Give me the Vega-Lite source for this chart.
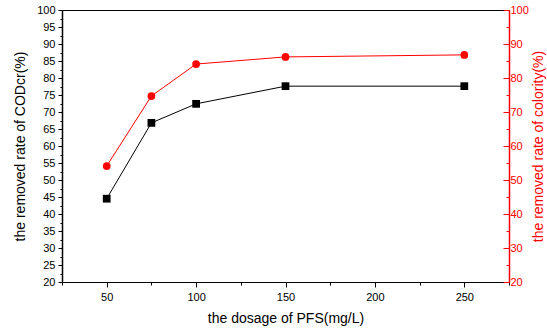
{
  "$schema": "https://vega.github.io/schema/vega-lite/v6.json",
  "width": 447,
  "height": 272,
  "autosize": "none",
  "padding": {"left": 62, "top": 10, "right": 38, "bottom": 52},
  "background": "white",
  "config": {
    "view": {"stroke": "black", "strokeWidth": 1},
    "font": "Liberation Sans",
    "axis": {"grid": false, "labelFont": "Liberation Sans", "titleFont": "Liberation Sans", "titleFontWeight": "normal", "labelFontSize": 11, "titleFontSize": 14}
  },
  "data": {
    "values": [
      {"dose": 50, "cod": 44.5, "color": 54.1},
      {"dose": 75, "cod": 66.8, "color": 74.7},
      {"dose": 100, "cod": 72.4, "color": 84.1},
      {"dose": 150, "cod": 77.6, "color": 86.2},
      {"dose": 250, "cod": 77.6, "color": 86.8}
    ]
  },
  "encoding": {
    "x": {
      "field": "dose", "type": "quantitative",
      "scale": {"domain": [25, 275], "nice": false, "zero": false},
      "axis": {
        "title": "the dosage of PFS(mg/L)",
        "values": [25, 50, 75, 100, 125, 150, 175, 200, 225, 250, 275],
        "labelExpr": "datum.value % 50 == 0 ? datum.label : ''",
        "tickSize": {"condition": {"test": "datum.value % 50 == 0", "value": 5}, "value": 3},
        "domainColor": "black", "tickColor": "black", "labelColor": "black", "titleColor": "black",
        "labelPadding": 4, "titlePadding": 9
      }
    }
  },
  "layer": [
    {
      "layer": [
        {"mark": {"type": "line", "color": "black", "strokeWidth": 1}},
        {"mark": {"type": "point", "shape": "square", "filled": true, "color": "black", "size": 60, "opacity": 1}}
      ],
      "encoding": {
        "y": {
          "field": "cod", "type": "quantitative",
          "scale": {"domain": [20, 100], "nice": false, "zero": false},
          "axis": {
            "orient": "left",
            "title": "the removed rate of CODcr(%)",
            "values": [20, 22.5, 25, 27.5, 30, 32.5, 35, 37.5, 40, 42.5, 45, 47.5, 50, 52.5, 55, 57.5, 60, 62.5, 65, 67.5, 70, 72.5, 75, 77.5, 80, 82.5, 85, 87.5, 90, 92.5, 95, 97.5, 100],
            "labelExpr": "datum.value % 5 == 0 ? datum.label : ''",
            "tickSize": {"condition": {"test": "datum.value % 5 == 0", "value": 4}, "value": 2},
            "domainColor": "black", "tickColor": "black", "labelColor": "black", "titleColor": "black",
            "domainWidth": 1.5,
            "labelPadding": 3, "titlePadding": 9
          }
        }
      }
    },
    {
      "layer": [
        {"mark": {"type": "line", "color": "#ff0000", "strokeWidth": 1}},
        {"mark": {"type": "point", "shape": "circle", "filled": true, "color": "#ff0000", "size": 60, "opacity": 1}}
      ],
      "encoding": {
        "y": {
          "field": "color", "type": "quantitative",
          "scale": {"domain": [20, 100], "nice": false, "zero": false},
          "axis": {
            "orient": "right",
            "title": "the removed rate of colority(%)",
            "titleAngle": 270,
            "values": [20, 25, 30, 35, 40, 45, 50, 55, 60, 65, 70, 75, 80, 85, 90, 95, 100],
            "labelExpr": "datum.value % 10 == 0 ? datum.label : ''",
            "tickSize": {"condition": {"test": "datum.value % 10 == 0", "value": -6}, "value": -3},
            "domainColor": "#ff0000", "tickColor": "#ff0000", "labelColor": "#ff0000", "titleColor": "#ff0000",
            "domainWidth": 1.5,
            "labelPadding": 7, "titlePadding": 17
          }
        }
      }
    }
  ],
  "resolve": {"scale": {"y": "independent"}}
}
